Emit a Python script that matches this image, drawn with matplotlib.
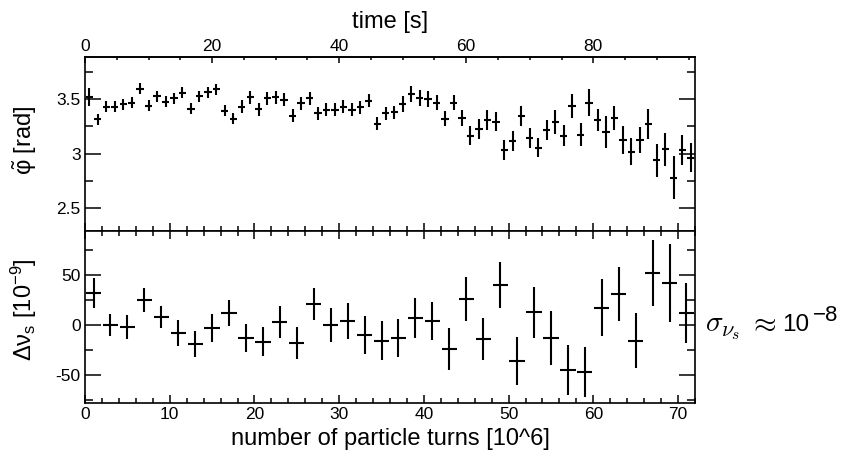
import numpy as np
import matplotlib.pyplot as plt
from matplotlib.ticker import MultipleLocator, FormatStrFormatter

plt.rcParams['font.family'] = ['Liberation Sans', 'DejaVu Sans']
plt.rcParams['mathtext.fontset'] = 'custom'
plt.rcParams['mathtext.rm'] = 'Liberation Sans'
plt.rcParams['mathtext.it'] = 'Liberation Sans:italic'

# phase, one slice per 10^6 turns (top panel)
phase_turns = np.arange(72) + 0.5
phase = [3.518, 3.317, 3.432, 3.432, 3.454, 3.469, 3.594, 3.439, 3.524, 3.478,
         3.509, 3.560, 3.411, 3.524, 3.564, 3.592, 3.393, 3.320, 3.432, 3.515,
         3.408, 3.509, 3.515, 3.494, 3.347, 3.463, 3.509, 3.372, 3.402, 3.402,
         3.432, 3.402, 3.427, 3.487, 3.274, 3.372, 3.381, 3.454, 3.546, 3.509,
         3.500, 3.469, 3.320, 3.469, 3.326, 3.167, 3.225, 3.310, 3.295, 3.036,
         3.118, 3.347, 3.143, 3.057, 3.219, 3.295, 3.164, 3.439, 3.173, 3.469,
         3.310, 3.198, 3.326, 3.127, 3.020, 3.124, 3.271, 2.941, 3.042, 2.782,
         3.036, 2.965]
phase_err = [0.08, 0.05, 0.05, 0.05, 0.05, 0.05, 0.05, 0.05, 0.05, 0.05,
             0.05, 0.05, 0.05, 0.05, 0.05, 0.05, 0.05, 0.05, 0.06, 0.06,
             0.06, 0.06, 0.06, 0.06, 0.06, 0.06, 0.06, 0.06, 0.06, 0.06,
             0.06, 0.06, 0.06, 0.06, 0.06, 0.06, 0.06, 0.07, 0.07, 0.07,
             0.07, 0.07, 0.07, 0.07, 0.07, 0.09, 0.09, 0.09, 0.09, 0.09,
             0.09, 0.09, 0.09, 0.09, 0.09, 0.11, 0.095, 0.11, 0.105, 0.12,
             0.10, 0.145, 0.11, 0.13, 0.12, 0.12, 0.14, 0.15, 0.15, 0.195,
             0.135, 0.13]

# synchrotron tune shift, one slice per 2*10^6 turns (bottom panel)
tune_turns = np.arange(1, 72, 2)
tune_shift = [31.7, 0.0, -2.3, 25.0, 7.7, -7.7, -19.3, -3.3, 11.7, -13.3,
              -16.7, 3.3, -18.3, 21.0, 0.0, 4.0, -10.0, -16.0, -13.3, 6.7,
              4.0, -24.3, 25.7, -14.0, 40.0, -36.0, 12.7, -12.7, -45.0, -46.7,
              17.3, 31.0, -16.0, 51.7, 41.7, 12.3]
tune_err = [15, 11, 12, 12, 11, 13, 13, 14, 13, 14,
            14.5, 16, 16, 16, 17, 18, 19, 19.5, 19, 20,
            19, 21, 22, 21, 23, 24, 25.5, 27, 25, 25,
            28.5, 27, 27.5, 33, 39, 30]

fig = plt.figure(figsize=(8.47, 4.55), dpi=100)
ax1 = fig.add_axes([0.1004, 0.4923, 0.7201, 0.3824])
ax2 = fig.add_axes([0.1004, 0.1143, 0.7201, 0.3780])

ax1.errorbar(phase_turns, phase, yerr=phase_err, xerr=0.43, fmt='none',
             ecolor='black', elinewidth=1.5, capsize=0)
ax2.errorbar(tune_turns, tune_shift, yerr=tune_err, xerr=0.9, fmt='none',
             ecolor='black', elinewidth=1.5, capsize=0)

ax1.set_xlim(0, 72)
ax1.set_ylim(2.294, 3.885)
ax2.set_xlim(0, 72)
ax2.set_ylim(-78, 94)

for ax in (ax1, ax2):
    for s in ax.spines.values():
        s.set_linewidth(1.2)
    ax.xaxis.set_major_locator(MultipleLocator(10))
    ax.xaxis.set_minor_locator(MultipleLocator(2))
    ax.tick_params(which='both', direction='in', width=1.1, labelsize=12.5,
                   left=True, right=True, pad=3)
    ax.tick_params(axis='y', which='major', length=11.5)
    ax.tick_params(axis='y', which='minor', length=5.8)
    ax.tick_params(axis='x', which='major', length=5.8)
    ax.tick_params(axis='x', which='minor', length=3.6)
    ax.yaxis.set_major_formatter(FormatStrFormatter('%g'))

ax1.yaxis.set_major_locator(MultipleLocator(0.5))
ax1.yaxis.set_minor_locator(MultipleLocator(0.25))
ax2.yaxis.set_major_locator(MultipleLocator(50))
ax2.yaxis.set_minor_locator(MultipleLocator(25))

ax1.tick_params(axis='x', which='both', bottom=True, top=False, labelbottom=False)
ax2.tick_params(axis='x', which='both', bottom=True, top=True)

# time axis on top: 10^6 turns <-> 4/3 s
sec = ax1.secondary_xaxis('top', functions=(lambda x: x * 4 / 3, lambda t: t * 3 / 4))
sec.xaxis.set_major_locator(MultipleLocator(20))
sec.xaxis.set_minor_locator(MultipleLocator(5))
sec.tick_params(which='both', direction='in', width=1.1, labelsize=12.5, pad=2)
sec.tick_params(which='major', length=4.5)
sec.tick_params(which='minor', length=2.5)
sec.spines['top'].set_linewidth(1.2)
sec.set_xlabel('time [s]', fontsize=17, labelpad=8)

ax1.set_ylabel(r'$\tilde{\mathrm{\varphi}}$ [rad]', fontsize=17)
ax1.yaxis.set_label_coords(-0.075, 0.52)
ax2.set_ylabel(r'$\Delta\mathrm{\nu}_{\mathrm{s}}$ [10$^{\mathrm{-9}}$]', fontsize=17)
ax2.yaxis.set_label_coords(-0.075, 0.54)
ax2.set_xlabel('number of particle turns [10^6]', fontsize=17, labelpad=4)

# resolution note to the right of the lower panel
fig.text(705 / 847, 1 - 331 / 455, r'$\sigma$', fontsize=21,
         va='baseline', ha='left', math_fontfamily='cm')
fig.text(721 / 847, 1 - 336 / 455, r'$\nu_s$', fontsize=16,
         va='baseline', ha='left', math_fontfamily='cm')
fig.text(748 / 847, 1 - 331 / 455, r'$\approx$', fontsize=21,
         va='baseline', ha='left', math_fontfamily='cm')
fig.text(782 / 847, 1 - 331 / 455, '10', fontsize=17.5,
         va='baseline', ha='left')
fig.text(813 / 847, 1 - 321 / 455, '\u22128', fontsize=16,
         va='baseline', ha='left')

fig.savefig('out.png', dpi=100)
